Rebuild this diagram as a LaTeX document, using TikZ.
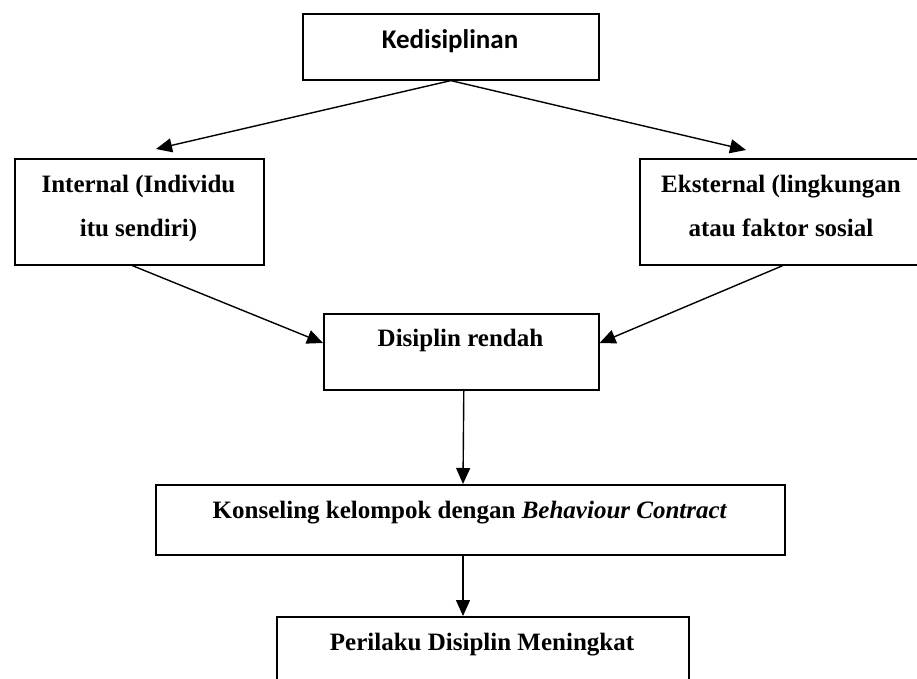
\documentclass[tikz,border=0pt]{standalone}
\usepackage{fontspec}
\setmainfont{Liberation Serif}
\newfontfamily\carlito{Carlito}
\usetikzlibrary{arrows.meta,calc}
\tikzset{
  box/.style={draw=black, line width=1.6pt, inner sep=0pt, anchor=north west, fill=none},
  lbl/.style={anchor=base, inner sep=0pt, font=\fontsize{25}{43}\selectfont\bfseries, align=center},
  conn/.style={draw=black, line width=1.4pt, -{Triangle[length=16pt,width=14pt]}},
  plain/.style={draw=black, line width=1.3pt}
}
\begin{document}
\begin{tikzpicture}[x=1pt,y=-1pt]
\clip (0,0) rectangle (917,679);
\fill[white] (0,0) rectangle (917,679);
% boxes
\node[box, minimum width=296pt, minimum height=66pt] (ked) at (302,13) {};
\node[box, minimum width=249pt, minimum height=106pt] (int) at (14,158) {};
\node[box, minimum width=286pt, minimum height=106pt] (ext) at (639,158) {};
\node[box, minimum width=275pt, minimum height=76pt] (dis) at (323,313) {};
\node[box, minimum width=629pt, minimum height=70pt] (kon) at (155,484) {};
\node[box, minimum width=412pt, minimum height=100pt] (per) at (276,616) {};
% texts
\node[lbl, font=\fontsize{27}{30}\selectfont\carlito\bfseries] (kedT) at (450,49) {Kedisiplinan};
\node[lbl] (intT1) at (138.5,193) {Internal (Individu};
\node[lbl] (intT2) at (138.5,236) {itu sendiri)};
\node[lbl] (extT1) at (781,193) {Eksternal (lingkungan};
\node[lbl] (extT2) at (781,236) {atau faktor sosial};
\node[lbl] (disT) at (460.5,346) {Disiplin rendah};
\node[lbl] (konT) at (470,518) {Konseling kelompok dengan \textit{Behaviour Contract}};
\node[lbl] (perT) at (482,650) {Perilaku Disiplin Meningkat};
% connector end points
\coordinate (intTip) at ($(int.north west)+(142,-9)$);
\coordinate (extTip) at ($(ext.north west)+(107,-8)$);
\coordinate (disL) at ($(dis.north west)+(0,30)$);
\coordinate (disR) at ($(dis.north east)+(0,30)$);
\coordinate (intB) at ($(int.south)+(-7,0)$);
\coordinate (disB) at ($(dis.south)+(2.5,0)$);
\coordinate (konTop) at ($(kon.north west)+(308,0)$);
\coordinate (konB) at ($(kon.south west)+(308,0)$);
\coordinate (perTop) at ($(per.north west)+(187,0)$);
% connectors
\draw[conn] (ked.south) -- (intTip);
\draw[conn] (ked.south) -- (extTip);
\draw[conn] (intB) -- (disL);
\draw[conn] (ext.south) -- (disR);
\draw[conn] (disB) -- (konTop);
\draw[conn] (konB) -- (perTop);
\end{tikzpicture}
\end{document}
